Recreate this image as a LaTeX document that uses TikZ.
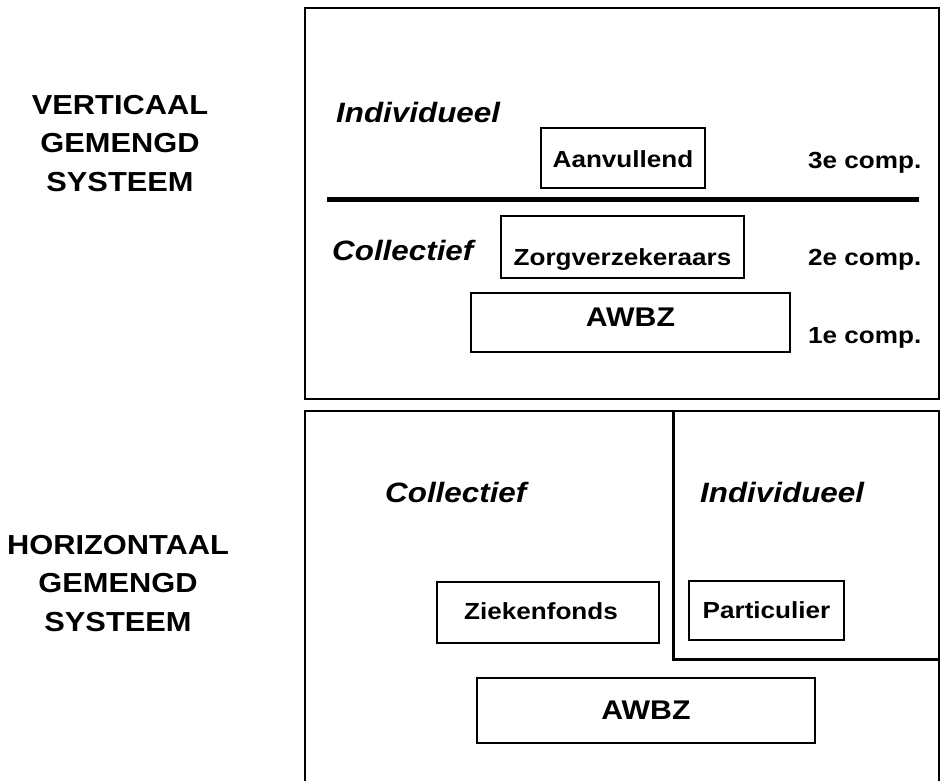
\documentclass[tikz,border=0pt]{standalone}
\usepackage{fontspec}
\setmainfont{Liberation Sans}[FakeStretch=1.12]
\usetikzlibrary{positioning}
\tikzset{
	cbox/.style={draw=black, line width=1.6pt, inner sep=0pt, anchor=base,
		font=\fontsize{23.3}{28}\selectfont\bfseries},
	bigbox/.style={cbox, font=\fontsize{27}{32}\selectfont\bfseries},
	tag/.style={anchor=base west, inner sep=0pt,
		font=\fontsize{28}{33}\selectfont\bfseries\itshape},
	comp/.style={anchor=base west, inner sep=0pt,
		font=\fontsize{23.3}{28}\selectfont\bfseries},
	sysname/.style={align=center, inner sep=0pt,
		font=\fontsize{27.5}{38.5}\selectfont\bfseries},
	panel/.style={line width=1.6pt},
	splitline/.style={line width=5pt}
}

\begin{document}
\begin{tikzpicture}[x=1pt, y=-1pt]
	\useasboundingbox (0,0) rectangle (940,780);
	% side labels
	\node[sysname] (vert) at (120,143.5) {VERTICAAL\\GEMENGD\\SYSTEEM};
	\node[sysname] (hor) at (118,583.5) {HORIZONTAAL\\GEMENGD\\SYSTEEM};
	% vertical system
	\draw[panel] (305,8) rectangle (939,399);
	\draw[splitline] (327,199) -- (919,199);
	\node[tag] (vind) at (336,122) {Individueel};
	\node[tag] (vcol) at (332,260) {Collectief};
	\node[cbox, minimum width=164, text height=39.3, text depth=20.7] (aanv) at (623,167.3) {Aanvullend};
	\node[cbox, minimum width=243, text height=49.5, text depth=12.5] (zorg) at (622.5,265.5) {Zorgverzekeraars};
	\node[bigbox, minimum width=319, text height=33.7, text depth=25.3] (awbz1) at (630.5,326.7) {AWBZ};
	\node[comp] (c3) at (808,168) {3e comp.};
	\node[comp] (c2) at (808,265) {2e comp.};
	\node[comp] (c1) at (808,343) {1e comp.};
	% horizontal system
	\draw[panel] (305,790) -- (305,411) -- (939,411) -- (939,790);
	\draw[line width=3pt] (673,411) -- (673,659) -- (941,659);
	\node[tag] (hcol) at (385,502) {Collectief};
	\node[tag] (hind) at (700,502) {Individueel};
	\node[cbox, minimum width=222, text height=37.3, text depth=23.7] (zfonds) at (548,619.3) {\hspace*{-14pt}Ziekenfonds};
	\node[cbox, minimum width=155, text height=37.3, text depth=21.7] (part) at (766.5,618.3) {Particulier};
	\node[bigbox, minimum width=338, text height=41.7, text depth=23.3] (awbz2) at (646,719.7) {AWBZ};
\end{tikzpicture}
\end{document}
